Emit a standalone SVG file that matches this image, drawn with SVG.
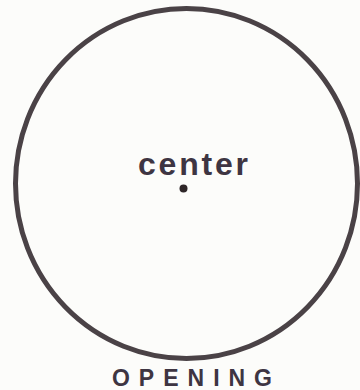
<svg xmlns="http://www.w3.org/2000/svg" width="360" height="390" viewBox="0 0 360 390">
  <style>
    .ink { fill: none; stroke: #4a4246; stroke-width: 5; stroke-linecap: round; }
    .label { font-family: "Liberation Sans", Arial, sans-serif; fill: #3e3542; font-weight: bold; }
  </style>
  <rect width="360" height="390" fill="#fcfcfa"/>
  <g id="circle">
    <ellipse class="ink" cx="186.5" cy="183.5" rx="171" ry="175"/>
  </g>
  <g id="center">
    <circle cx="183.5" cy="188.5" r="4" fill="#2e2628"/>
    <text class="label" x="138" y="175" font-size="32" textLength="110" lengthAdjust="spacing">center</text>
  </g>
  <g id="opening">
    <text class="label" x="112" y="386" font-size="23" textLength="160" lengthAdjust="spacing">OPENING</text>
  </g>
</svg>
